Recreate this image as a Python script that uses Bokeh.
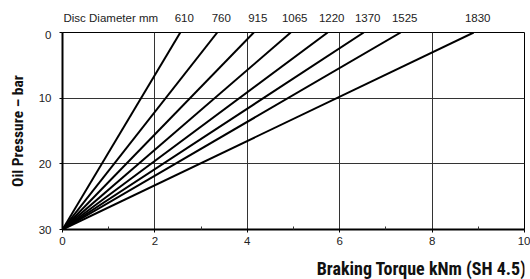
import math
from bokeh.plotting import figure
from bokeh.layouts import column, row
from bokeh.models import Range1d, FixedTicker, ColumnDataSource
from bokeh.core.properties import value
from bokeh.embed import file_html
from bokeh.resources import INLINE

# ---- data ----
disc_mm = [610, 760, 915, 1065, 1220, 1370, 1525, 1830]
torque_at_zero_bar = [2.55, 3.35, 4.14, 4.94, 5.74, 6.52, 7.32, 8.9]   # kNm where each line meets 0 bar
origin_torque = 0
origin_pressure = 30
top_pressure = 0
x_major = [0, 2, 4, 6, 8, 10]
x_minor = [1, 3, 5, 7, 9]
y_major = [0, 10, 20, 30]
x_title = "Braking Torque kNm (SH 4.5)"
y_title = "Oil Pressure – bar"
top_title = "Disc Diameter mm"

BOLD = "Roboto Condensed"
REG = "Liberation Sans"
LBL_COLOR = "#222222"
TITLE_COLOR = "#111111"
LW = 30            # width of the strip holding the y title
W = 530 - LW
H = 279
LEFT, RIGHT = 62 - LW, 6

xr = Range1d(0, 10)


def strip(w, h, left, right, x_range):
    f = figure(width=w, height=h, output_backend="svg", toolbar_location=None,
               x_range=x_range, y_range=Range1d(0, 1),
               min_border_left=left, min_border_right=right, min_border_top=0, min_border_bottom=0)
    f.axis.visible = False
    f.grid.visible = False
    f.outline_line_color = None
    f.background_fill_color = "white"
    f.border_fill_color = "white"
    return f


# ---- top strip with the disc diameter labels ----
top = strip(W, 30, LEFT, RIGHT, xr)
src = ColumnDataSource(dict(x=torque_at_zero_bar, t=[str(d) for d in disc_mm]))
top.text(x="x", y=0.43, text="t", source=src, x_offset=4,
         text_align="center", text_baseline="middle",
         text_font=value(REG), text_font_size="11.5px", text_color=LBL_COLOR)
top.text(x=[x_major[0]], y=[0.43], text=[top_title], x_offset=1,
         text_align="left", text_baseline="middle",
         text_font=value(REG), text_font_size="11.5px", text_color=LBL_COLOR)

# ---- main chart ----
p = figure(width=W, height=221, output_backend="svg", toolbar_location=None,
           x_range=xr, y_range=Range1d(30, 0),
           min_border_left=LEFT, min_border_right=RIGHT, min_border_top=2, min_border_bottom=22)
p.background_fill_color = "white"
p.border_fill_color = "white"
p.outline_line_color = "black"
p.outline_line_width = 1

p.xaxis.ticker = FixedTicker(ticks=x_major, minor_ticks=x_minor)
p.yaxis.ticker = FixedTicker(ticks=y_major, minor_ticks=[])
for ax in (p.xaxis, p.yaxis):
    ax.axis_line_color = "black"
    ax.axis_line_width = 2
    ax.major_tick_line_color = "black"
    ax.major_tick_in = 0
    ax.major_tick_out = 3
    ax.major_label_text_font = REG
    ax.major_label_text_font_size = "11.5px"
    ax.major_label_text_color = LBL_COLOR
p.xaxis.minor_tick_in = 3
p.xaxis.minor_tick_out = 0
p.xaxis.minor_tick_line_color = "#333333"
p.yaxis.minor_tick_line_color = None
p.xaxis.major_label_standoff = 4
p.yaxis.major_label_standoff = 8

p.xgrid.ticker = FixedTicker(ticks=x_major)
p.ygrid.ticker = FixedTicker(ticks=y_major)
p.grid.grid_line_color = "#333333"
p.grid.grid_line_width = 1

xs = [[origin_torque, t] for t in torque_at_zero_bar]
ys = [[origin_pressure, top_pressure] for _ in torque_at_zero_bar]
p.multi_line(xs=xs, ys=ys, line_color="black", line_width=2)

# ---- bottom strip with the x-axis title, right aligned ----
bot = strip(W, 28, LEFT, RIGHT, xr)
bot.text(x=[x_major[-1]], y=[0.38], text=[x_title], x_offset=2,
         text_align="right", text_baseline="middle",
         text_font=value(BOLD), text_font_style="bold", text_font_size="18px",
         text_color=TITLE_COLOR)

# ---- left strip with the y-axis title, centred on the plot frame ----
left = strip(LW, H, 0, 0, Range1d(0, 1))
left.text(x=[0.57], y=[0.532], text=[y_title], angle=math.pi / 2,
          text_align="center", text_baseline="middle",
          text_font=value(BOLD), text_font_style="bold", text_font_size="15.5px",
          text_color=TITLE_COLOR)

layout = row(left, column(top, p, bot, spacing=0), spacing=0)
open("out.html", "w").write(file_html(layout, INLINE))
